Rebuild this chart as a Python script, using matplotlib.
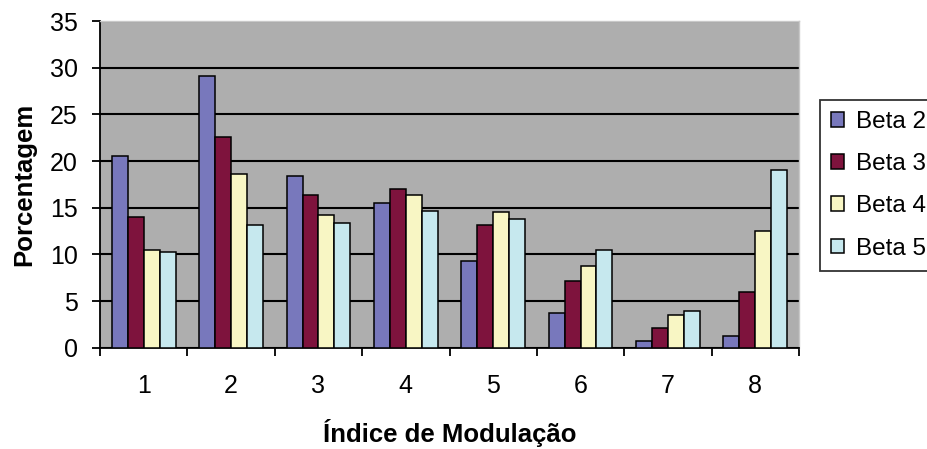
import numpy as np
import matplotlib
matplotlib.use("Agg")
import matplotlib.pyplot as plt
from matplotlib.ticker import FixedLocator

plt.rcParams['font.family'] = ['Liberation Sans', 'DejaVu Sans']

# Percentage per modulation index for each beta
categories = ['1', '2', '3', '4', '5', '6', '7', '8']
series_names = ['Beta 2', 'Beta 3', 'Beta 4', 'Beta 5']
beta2 = [20.5, 29.1, 18.4, 15.5, 9.3, 3.7, 0.7, 1.3]
beta3 = [14.0, 22.6, 16.4, 17.0, 13.1, 7.1, 2.1, 6.0]
beta4 = [10.5, 18.6, 14.2, 16.4, 14.5, 8.8, 3.5, 12.5]
beta5 = [10.3, 13.1, 13.4, 14.7, 13.8, 10.5, 3.9, 19.0]
colors = ['#7878BC', '#7E133D', '#F8F6C4', '#C6E8EE']

fig = plt.figure(figsize=(9.27, 4.49), dpi=100)
ax = fig.add_axes([0.1079, 0.2256, 0.7540, 0.7275])
ax.set_facecolor('#AEAEAE')

x = np.arange(1, len(categories) + 1)
width = 0.182
for i, (vals, name, c) in enumerate(zip([beta2, beta3, beta4, beta5], series_names, colors)):
    ax.bar(x + (i - 1.5) * width, vals, width, color=c, edgecolor='black',
           linewidth=1.1, label=name, zorder=3)

ax.set_xlim(0.5, 8.5)
ax.set_ylim(0, 35)
ax.set_yticks(np.arange(0, 36, 5))
ax.yaxis.grid(True, color='black', linewidth=1.5, zorder=1)
ax.set_axisbelow(True)

# category labels centred, tick marks between categories
ax.set_xticks(x)
ax.set_xticklabels(categories)
ax.xaxis.set_minor_locator(FixedLocator(np.arange(0.5, 9, 1)))
ax.tick_params(axis='x', which='major', length=0, pad=19, labelsize=18)
ax.tick_params(axis='x', which='minor', length=6, width=1.3, direction='out')
ax.tick_params(axis='y', length=6, width=1.3, direction='out', pad=10, labelsize=18)

for s in ['left', 'bottom']:
    ax.spines[s].set_color('black')
    ax.spines[s].set_linewidth(1.3)
for s in ['top', 'right']:
    ax.spines[s].set_color('#C8C8C8')
    ax.spines[s].set_linewidth(1.0)

ax.set_xlabel('Índice de Modulação', fontsize=18.5, fontweight='bold', labelpad=15)
ax.set_ylabel('Porcentagem', fontsize=18.5, fontweight='bold', labelpad=10)

leg = fig.legend(loc='upper left', bbox_to_anchor=(0.8846, 0.777), frameon=True,
                 fancybox=False, edgecolor='black', fontsize=17.5, handlelength=0.55,
                 handleheight=0.55, handletextpad=0.47, labelspacing=0.83,
                 borderpad=0.45, borderaxespad=0)
leg.get_frame().set_linewidth(1.3)

fig.savefig('out.png', dpi=100)
